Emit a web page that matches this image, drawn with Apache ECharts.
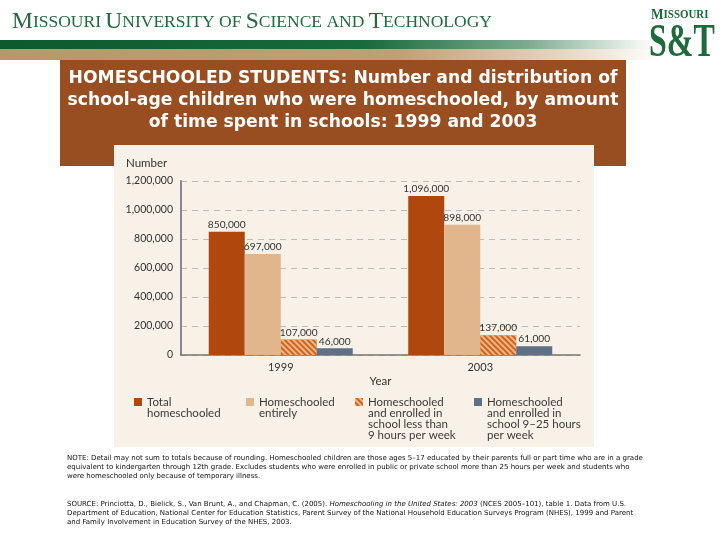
<!DOCTYPE html>
<html>
<head>
<meta charset="utf-8">
<script src="https://cdn.jsdelivr.net/npm/echarts@6/dist/echarts.min.js"></script>
<style>html,body{margin:0;padding:0;background:#fff}#c{width:720px;height:540px}</style>
</head>
<body>
<div id="c"></div>
<script>
var categories = ['1999', '2003'];
var totalHomeschooled = [850000, 1096000];
var homeschooledEntirely = [697000, 898000];
var lessThan9Hours = [107000, 137000];
var from9to25Hours = [46000, 61000];
var seriesNames = ['Total\nhomeschooled', 'Homeschooled\nentirely', 'Homeschooled\nand enrolled in\nschool less than\n9 hours per week', 'Homeschooled\nand enrolled in\nschool 9\u201325 hours\nper week'];
var yTicks = [0, 200000, 400000, 600000, 800000, 1000000, 1200000];

var titleText = 'HOMESCHOOLED STUDENTS: Number and distribution of\nschool-age children who were homeschooled, by amount\nof time spent in schools: 1999 and 2003';
var noteText = 'NOTE: Detail may not sum to totals because of rounding. Homeschooled children are those ages 5\u201317 educated by their parents full or part time who are in a grade\nequivalent to kindergarten through 12th grade. Excludes students who were enrolled in public or private school more than 25 hours per week and students who\nwere homeschooled only because of temporary illness.';
var sourceText = 'SOURCE: Princiotta, D., Bielick, S., Van Brunt, A., and Chapman, C. (2005). {i|Homeschooling in the United States: 2003} (NCES 2005\u2013101), table 1. Data from U.S.\nDepartment of Education, National Center for Education Statistics, Parent Survey of the National Household Education Surveys Program (NHES), 1999 and Parent\nand Family Involvement in Education Survey of the NHES, 2003.';

function fmt(v){ return v.toLocaleString('en-US'); }

var chart = echarts.init(document.getElementById('c'), null, {renderer:'canvas'});
var colors = ['#b0470d', '#e2b68c', '#cf6420', '#5f7186'];
var lf = 'Lato, "Open Sans", sans-serif';
var vf = '"DejaVu Sans", Verdana, sans-serif';
var sf = '"Liberation Serif", serif';
var LH = 11;

function legendAt(i, left){
  var n = seriesNames[i].split('\n').length;
  var iconCenter = 401.5;
  return {
    data: [seriesNames[i]], left: left, top: iconCenter - (2*n - 1) * LH / 2, orient: 'vertical',
    itemWidth: 8, itemHeight: 8, itemGap: 0, icon: 'rect', padding: 0,
    selectedMode: false,
    formatter: function(name){ var k = name.split('\n').length - 1; var pre = ''; for (var j = 0; j < k; j++) pre += ' \n'; return pre + name; },
    textStyle: {fontFamily: lf, fontSize: 11.5, color: '#3a3a3a', lineHeight: LH}
  };
}

var labelStyle = {show: true, position: 'top', distance: 2, fontFamily: lf, fontSize: 10.2, color: '#333', formatter: function(p){return fmt(p.value);}};

chart.setOption({
  animation: false,
  backgroundColor: '#ffffff',
  graphic: [
    {type:'rect', z:-10, shape:{x:0,y:40,width:660,height:9}, style:{fill:new echarts.graphic.LinearGradient(0,0,1,0,[{offset:0,color:'#0c5a2e'},{offset:0.55,color:'#176a3c'},{offset:0.8,color:'#7eab90'},{offset:0.97,color:'#f2f6f2'},{offset:1,color:'#ffffff'}])}},
    {type:'rect', z:-10, shape:{x:0,y:49,width:660,height:11}, style:{fill:new echarts.graphic.LinearGradient(0,0,1,0,[{offset:0,color:'#b8976a'},{offset:0.6,color:'#bf9f75'},{offset:0.85,color:'#e5d6c0'},{offset:1,color:'#ffffff'}])}},
    {type:'rect', z:-9, shape:{x:60,y:60,width:566,height:106}, style:{fill:'#994e22'}},
    {type:'rect', z:-8, shape:{x:114,y:145,width:480,height:302}, style:{fill:'#f8f1e7'}},
    {type:'text', left:12, top:10, z:5, style:{text:'{c|M}{s|ISSOURI }{c|U}{s|NIVERSITY OF }{c|S}{s|CIENCE AND }{c|T}{s|ECHNOLOGY}', rich:{c:{fontFamily:sf, fontSize:23.5, fill:'#1f6a3e'}, s:{fontFamily:sf, fontSize:17.5, fill:'#1f6a3e'}}}},
    {type:'text', x:651, y:8, scaleX:0.95, z:5, style:{text:'{c|M}{s|ISSOURI}', rich:{c:{fontFamily:sf, fontSize:14, fontWeight:'bold', fill:'#1d6a3c'}, s:{fontFamily:sf, fontSize:11.5, fontWeight:'bold', fill:'#1d6a3c'}}}},
    {type:'text', x:649, y:20, scaleX:0.68, z:5, style:{text:'S&T', fontFamily:sf, fontSize:47, fontWeight:'bold', fill:'#1d6a3c'}},
    {type:'text', x:343, y:68, z:6, style:{text:titleText, align:'center', verticalAlign:'top', fontFamily:vf, fontSize:17.2, fontWeight:'bold', lineHeight:22, fill:'#ffffff'}},
    {type:'text', left:126, top:157, z:6, style:{text:'Number', fontFamily:lf, fontSize:11.5, fill:'#333'}},
    {type:'text', left:67, top:454, z:6, style:{text:noteText, fontFamily:vf, fontSize:7, lineHeight:9, fill:'#111'}},
    {type:'text', left:67, top:500, z:6, style:{text:sourceText, fontFamily:vf, fontSize:7, lineHeight:9, fill:'#111', rich:{i:{fontFamily:vf, fontSize:7, fontStyle:'italic', fill:'#111'}}}}
  ],
  legend: [legendAt(0,134), legendAt(1,246), legendAt(2,355), legendAt(3,474)],
  grid: {left:181, right:140, top:181, bottom:185, containLabel:false},
  xAxis: {
    type:'category', data: categories,
    name:'Year', nameLocation:'middle', nameGap:20,
    nameTextStyle:{fontFamily:lf, fontSize:11.5, color:'#333'},
    axisLine:{lineStyle:{color:'#777', width:1.5}},
    axisTick:{show:false},
    axisLabel:{fontFamily:lf, fontSize:11, color:'#333', margin:7}
  },
  yAxis: {
    type:'value', min:0, max:1200000, interval:200000,
    axisLine:{show:true, lineStyle:{color:'#888', width:2}},
    axisTick:{show:false},
    axisLabel:{fontFamily:lf, fontSize:10.5, color:'#333', margin:8, formatter:function(v){return fmt(v);}},
    splitLine:{lineStyle:{color:'#bbb', type:[6,5], width:1}}
  },
  series: [
    {name:seriesNames[0], type:'bar', data: totalHomeschooled, barWidth:36, barGap:'0%', itemStyle:{color:colors[0]}, label:labelStyle},
    {name:seriesNames[1], type:'bar', data: homeschooledEntirely, barWidth:36, barGap:'0%', itemStyle:{color:colors[1]}, label:labelStyle},
    {name:seriesNames[2], type:'bar', data: lessThan9Hours, barWidth:36, barGap:'0%', itemStyle:{color:colors[2], decal:{symbol:'rect', symbolSize:1, dashArrayX:[1,0], dashArrayY:[2,2], rotation:Math.PI/4, color:'rgba(246,196,150,0.85)'}}, label:labelStyle},
    {name:seriesNames[3], type:'bar', data: from9to25Hours, barWidth:36, barGap:'0%', itemStyle:{color:colors[3]}, label:labelStyle}
  ]
});
</script>
</body>
</html>
